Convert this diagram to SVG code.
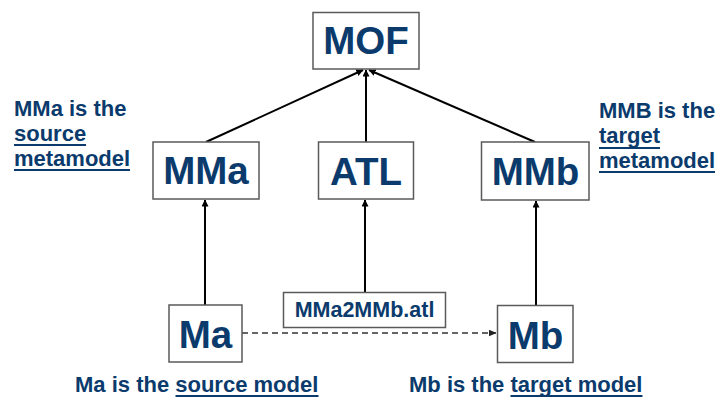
<svg xmlns="http://www.w3.org/2000/svg" width="717" height="399" viewBox="0 0 717 399">
  <style>
    .box { fill: #ffffff; stroke: #5a5a5a; stroke-width: 1.5; }
    .node { font-family: "Liberation Sans", Arial, sans-serif; font-weight: bold; fill: #0b3a6c; text-anchor: middle; }
    .big { font-size: 38.5px; }
    .small { font-size: 21.5px; }
    .note { font-family: "Liberation Sans", Arial, sans-serif; font-weight: bold; font-size: 22px; fill: #0b3a6c; }
    .ul { stroke: #0b3a6c; stroke-width: 2; }
    .edge { stroke: #000000; stroke-width: 2; fill: none; }
    .dash { stroke: #333333; stroke-width: 1.3; stroke-dasharray: 6 4; fill: none; }
  </style>
  <defs>
    <marker id="arrow" viewBox="0 0 8 8" refX="7.5" refY="4" markerWidth="3.5" markerHeight="3.5" orient="auto" markerUnits="strokeWidth">
      <path d="M0,0 L8,4 L0,8 z" fill="#000000"/>
    </marker>
    <marker id="arrow-dash" viewBox="0 0 8 8" refX="7.5" refY="4" markerWidth="6" markerHeight="6" orient="auto" markerUnits="strokeWidth">
      <path d="M0,0.5 L8,4 L0,7.5 z" fill="#222222"/>
    </marker>
  </defs>

  <!-- connectors -->
  <g id="connectors">
    <line class="edge" x1="206" y1="142" x2="363" y2="70" marker-end="url(#arrow)"/>
    <line class="edge" x1="366" y1="142" x2="366" y2="70" marker-end="url(#arrow)"/>
    <line class="edge" x1="535" y1="142" x2="369" y2="70" marker-end="url(#arrow)"/>
    <line class="edge" x1="205" y1="305" x2="205" y2="200" marker-end="url(#arrow)"/>
    <line class="edge" x1="365" y1="292" x2="365" y2="200" marker-end="url(#arrow)"/>
    <line class="edge" x1="536" y1="305" x2="536" y2="201" marker-end="url(#arrow)"/>
    <line class="dash" x1="242" y1="333" x2="496" y2="333" marker-end="url(#arrow-dash)"/>
  </g>

  <!-- nodes -->
  <g id="mof">
    <rect class="box" x="313" y="12.5" width="106" height="56.5"/>
    <text class="node big" x="366" y="54">MOF</text>
  </g>
  <g id="mma">
    <rect class="box" x="153" y="142" width="106" height="57"/>
    <text class="node big" x="206" y="184">MMa</text>
  </g>
  <g id="atl">
    <rect class="box" x="318.5" y="142" width="95" height="57"/>
    <text class="node big" x="366" y="184.5">ATL</text>
  </g>
  <g id="mmb">
    <rect class="box" x="481.5" y="142" width="107.5" height="58"/>
    <text class="node big" x="535.5" y="184.5">MMb</text>
  </g>
  <g id="transformation">
    <rect class="box" x="283.5" y="292.5" width="162" height="35"/>
    <text class="node small" x="364.5" y="317">MMa2MMb.atl</text>
  </g>
  <g id="ma">
    <rect class="box" x="169" y="305" width="73" height="57"/>
    <text class="node big" x="205.5" y="348">Ma</text>
  </g>
  <g id="mb">
    <rect class="box" x="497.5" y="305.5" width="75.5" height="57"/>
    <text class="node big" x="535.5" y="348.5">Mb</text>
  </g>

  <!-- annotations (underlined words get a drawn rule) -->
  <g id="note-mma">
    <text class="note" x="14" y="116">MMa is the</text>
    <text class="note" x="14" y="141">source</text>
    <text class="note" x="14" y="166">metamodel</text>
    <line class="ul" x1="14" y1="145" x2="86" y2="145"/>
    <line class="ul" x1="14" y1="170" x2="130" y2="170"/>
  </g>
  <g id="note-mmb">
    <text class="note" x="599" y="118">MMB is the</text>
    <text class="note" x="599" y="143">target</text>
    <text class="note" x="599" y="168">metamodel</text>
    <line class="ul" x1="599" y1="148" x2="660" y2="148"/>
    <line class="ul" x1="599" y1="172" x2="715" y2="172"/>
  </g>
  <g id="note-ma">
    <text class="note" x="75" y="392">Ma is the source model</text>
    <line class="ul" x1="175.5" y1="396" x2="318.5" y2="396"/>
  </g>
  <g id="note-mb">
    <text class="note" x="409" y="392">Mb is the target model</text>
    <line class="ul" x1="510.5" y1="396" x2="642.5" y2="396"/>
  </g>
</svg>
